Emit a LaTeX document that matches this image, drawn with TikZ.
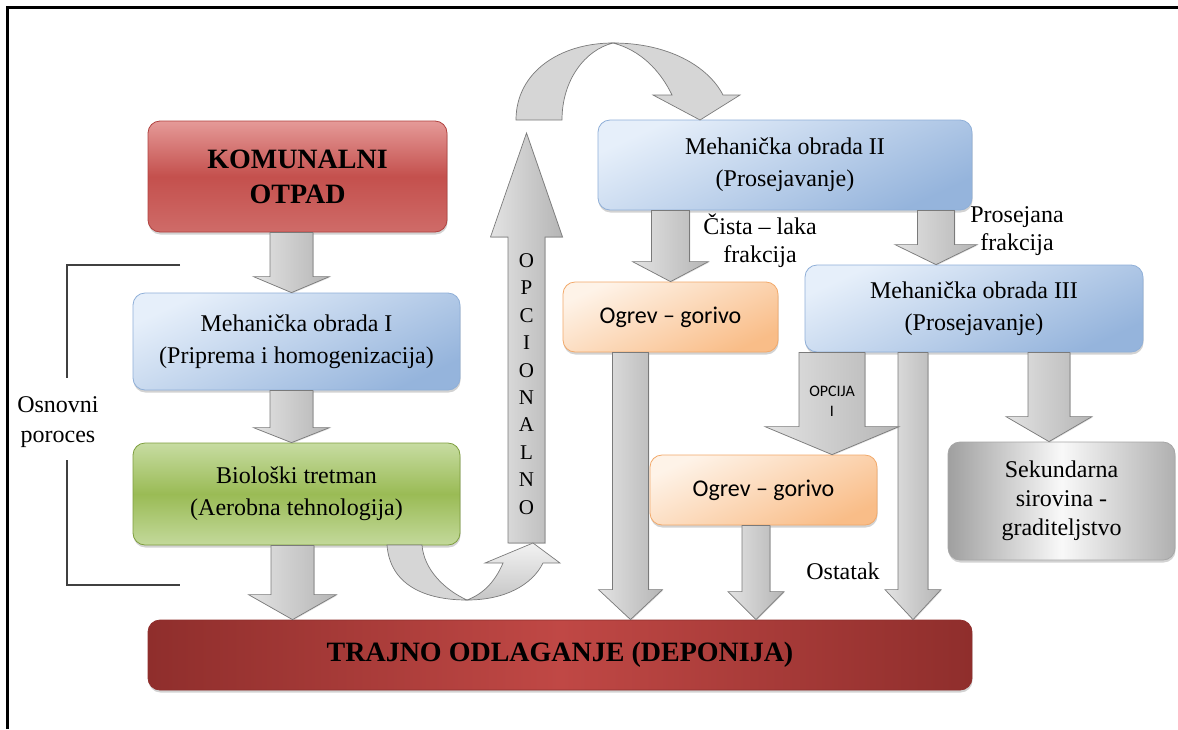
\documentclass[tikz,border=0pt]{standalone}
\usepackage{fontspec}
\setmainfont{Liberation Serif}
\newfontfamily\calfont{Carlito}
\usetikzlibrary{calc,shadows}
\definecolor{koTop}{HTML}{E59A98}
\definecolor{koMid}{HTML}{C4504D}
\definecolor{koBot}{HTML}{CF6B68}
\definecolor{koLine}{HTML}{B0423F}
\definecolor{blTop}{HTML}{E6EFFA}
\definecolor{blBot}{HTML}{95B4DC}
\definecolor{blLine}{HTML}{8FAFD8}
\definecolor{grTop}{HTML}{C7DCA2}
\definecolor{grMid}{HTML}{9ABB55}
\definecolor{grBot}{HTML}{C3D99B}
\definecolor{grLine}{HTML}{7E9E3E}
\definecolor{orTop}{HTML}{FEF3E8}
\definecolor{orBot}{HTML}{F9BD88}
\definecolor{orLine}{HTML}{F2A96A}
\definecolor{trDark}{HTML}{8F2E2C}
\definecolor{trMid}{HTML}{C04845}
\definecolor{arLine}{HTML}{7A7A7A}
\tikzset{
  box/.style={rounded corners=12pt, align=center, inner sep=2pt,
    font=\fontsize{24}{32}\selectfont,
    drop shadow={shadow xshift=0.5pt, shadow yshift=-2.5pt, opacity=0.35}},
  redbox/.style={box, draw=koLine, line width=0.8pt, top color=koTop, bottom color=koBot, middle color=koMid},
  bluebox/.style={box, draw=blLine, line width=0.8pt, top color=blTop, bottom color=blBot, shading angle=25},
  greenbox/.style={box, draw=grLine, line width=0.8pt, top color=grTop, bottom color=grBot, middle color=grMid},
  orangebox/.style={box, draw=orLine, line width=0.8pt, top color=orTop, bottom color=orBot, shading angle=25,
    font=\calfont\fontsize{24}{30}\selectfont},
  graybox/.style={box, draw=gray!70, line width=0.8pt, left color=gray!75, right color=gray!62, middle color=gray!5,
    font=\fontsize{24}{29}\selectfont},
  darkbox/.style={box, draw=trDark, line width=0.8pt, left color=trDark, right color=trDark, middle color=trMid,
    font=\bfseries\fontsize{28}{34}\selectfont},
  barrow/.style={draw=arLine, line width=0.7pt, left color=gray!22, right color=gray!58,
    drop shadow={shadow xshift=0.8pt, shadow yshift=-0.8pt, opacity=0.25}},
  bandback/.style={draw=arLine, line width=0.7pt, fill=gray!32},
  bandfront/.style={draw=arLine, line width=0.7pt, top color=gray!10, bottom color=gray!45},
  lbl/.style={font=\fontsize{24}{28}\selectfont, align=center, inner sep=0pt},
  bracket/.style={draw=black!75, line width=1.2pt},
}
% down block arrow: #1 start point, #2 point giving tip y, #3 shaft half width, #4 head half width, #5 head length
\newcommand\dnarr[5]{%
  \draw[barrow] let \p1=#1, \p2=#2 in
    (\x1-#3,\y1) -- (\x1+#3,\y1) -- (\x1+#3,\y2+#5) -- (\x1+#4,\y2+#5) -- (\x1,\y2)
    -- (\x1-#4,\y2+#5) -- (\x1-#3,\y2+#5) -- cycle;}
\begin{document}
\begin{tikzpicture}[x=1pt,y=-1pt]
\useasboundingbox (0,0) rectangle (1178,729);
\fill[white] (0,0) rectangle (1178,729);
\draw[line width=3pt, line join=miter] (7,729) -- (7,7) -- (1178,7);

% boxes
\node[redbox, minimum width=299pt, minimum height=111pt, font=\bfseries\fontsize{28}{35}\selectfont] (ko) at (297.5,176.5) {KOMUNALNI\\OTPAD};
\node[bluebox, minimum width=327pt, minimum height=97pt] (m1) at (296.5,341.5) {Mehanička obrada I\\(Priprema i homogenizacija)};
\node[greenbox, minimum width=327pt, minimum height=102pt] (bio) at (296.5,494) {Biološki tretman\\(Aerobna tehnologija)};
\node[darkbox, minimum width=824pt, minimum height=70pt] (tr) at (560,655) {TRAJNO ODLAGANJE (DEPONIJA)};
\node[bluebox, minimum width=374pt, minimum height=90pt] (m2) at (785,165) {Mehanička obrada II\\(Prosejavanje)};
\node[orangebox, minimum width=215pt, minimum height=70pt] (og1) at (670.5,317) {Ogrev – gorivo};
\node[bluebox, minimum width=338pt, minimum height=87pt] (m3) at (974,308.5) {Mehanička obrada III\\(Prosejavanje)};
\node[orangebox, minimum width=227pt, minimum height=70pt] (og2) at (763.5,490) {Ogrev – gorivo};
\node[graybox, minimum width=227pt, minimum height=118pt] (sek) at (1061.5,501) {Sekundarna\\sirovina -\\graditeljstvo};

% straight block arrows
\coordinate (a1) at ($(ko.south)+(-6,0)$);
\dnarr{(a1)}{(m1.north)}{21.5}{38}{16}
\coordinate (a2) at ($(m1.south)+(-5,0)$);
\dnarr{(a2)}{(bio.north)}{21.5}{38}{15}
\coordinate (a3) at ($(bio.south)+(-4,0)$);
\dnarr{(a3)}{(tr.north)}{21.5}{44}{25}
\dnarr{(og1.north |- m2.south)}{(og1.north)}{19}{38}{20}
\coordinate (a5) at ($(m3.north)+(-38,0)$);
\dnarr{(a5 |- m2.south)}{(m3.north)}{18.5}{41}{20}
\coordinate (a6) at ($(og1.south)+(-40,0)$);
\dnarr{(a6)}{(tr.north)}{18}{32}{30}
\coordinate (a7) at ($(og2.south)+(-7.5,0)$);
\dnarr{(a7)}{(tr.north)}{14}{28}{28}
\coordinate (a8) at ($(m3.south)+(-61,0)$);
\dnarr{(a8)}{(tr.north)}{15}{28}{30}
\coordinate (a9) at ($(og2.north)+(68.5,0)$);
\dnarr{(a9 |- m3.south)}{(og2.north)}{33}{67}{28}
\coordinate (a10) at ($(m3.south)+(75,0)$);
\dnarr{(a10)}{(sek.north)}{21}{43}{25}

% labels of the arrows
\node[font=\calfont\fontsize{16}{20}\selectfont, align=center, inner sep=0pt] (opcija) at (832,401) {OPCIJA\\I};
\node[lbl] (cista) at (760,241) {Čista – laka\\frakcija};
\node[lbl] (prosej) at (1017,231) {Prosejana\\frakcija};
\node[lbl] (ostatak) at (843,571) {Ostatak};

% OPCIONALNO up arrow
\coordinate (upb) at (526.5,543);
\coordinate (upt) at (526.5,133);
\draw[barrow] let \p1=(upb), \p2=(upt) in
  (\x1-18.5,\y1) -- (\x1+18.5,\y1) -- (\x1+18.5,\y2-104) -- (\x1+36,\y2-104) -- (\x1,\y2)
  -- (\x1-36,\y2-104) -- (\x1-18.5,\y2-104) -- cycle;
\node[font=\fontsize{21}{27.4}\selectfont, align=center, inner sep=0pt] (opc) at (526.5,384) {O\\P\\C\\I\\O\\N\\A\\L\\N\\O};

% curved arrow from Bioloski tretman to the up arrow
\draw[bandback] (387,545) .. controls (390,585) and (425,600) .. (467,600)
  .. controls (445,590) and (424,570) .. (422,545) -- cycle;
\draw[bandfront] (467,600) .. controls (505,600) and (532,585) .. (543,563) -- (560,563) -- (533,543)
  -- (485,563) -- (503,563) .. controls (495,582) and (483,594) .. (467,600) -- cycle;

% curved arrow over the top to Mehanicka obrada II
\draw[bandback] (516,120) .. controls (516,72) and (560,43) .. (613,43)
  .. controls (585,50) and (562,80) .. (562,120) -- cycle;
\draw[bandback] (613,43) .. controls (668,43) and (708,66) .. (723,95) -- (740,95) -- (700,120)
  -- (653,95) -- (672,95) .. controls (660,70) and (640,50) .. (613,43) -- cycle;

% bracket "Osnovni poroces"
\draw[bracket] (180,265) -- (67,265) -- (67,378);
\draw[bracket] (67,460) -- (67,585) -- (180,585);
\node[lbl, font=\fontsize{24}{30}\selectfont] (osn) at (58,422) {Osnovni\\poroces};
\end{tikzpicture}
\end{document}
